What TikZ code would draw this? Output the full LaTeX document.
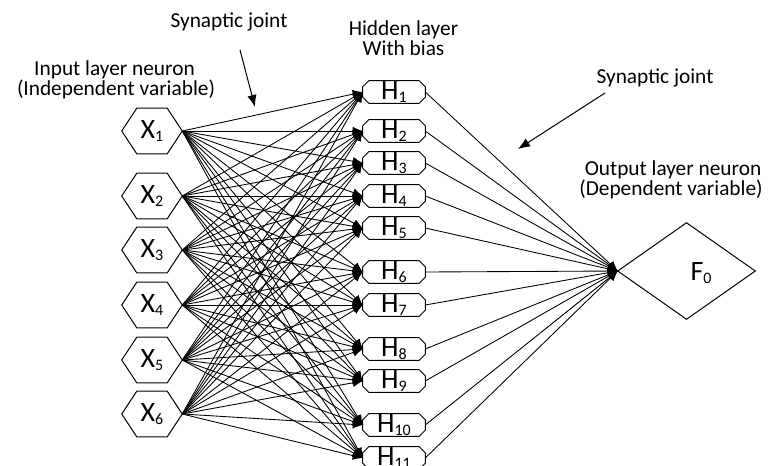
\documentclass[tikz,border=0pt]{standalone}
\usepackage{fontspec}
\setmainfont{Carlito}
\usetikzlibrary{arrows.meta,calc}
\newcommand\nlab[2]{{\fontsize{21}{21}\selectfont #1\raisebox{-1.8pt}{\fontsize{12}{12}\selectfont #2}}}
\begin{document}
\begin{tikzpicture}[x=0.75pt,y=-0.75pt,
  lbl/.style={font=\fontsize{16}{15}\selectfont, inner sep=0pt, anchor=base},
  conn/.style={line width=0.65pt, -{Latex[length=7.5pt,width=6.5pt]}},
  callout/.style={line width=0.75pt, -{Latex[length=9pt,width=7pt]}},
  outline/.style={line width=0.75pt},
  hexbox/.style={minimum width=45pt, minimum height=33.75pt, inner sep=0pt},
  hbox/.style={minimum width=46.5pt, minimum height=16.5pt, inner sep=0pt},
]
\useasboundingbox (0,0) rectangle (769,465);
\clip (0,0) rectangle (769,465);

% input layer
\foreach \i/\y in {1/131,2/196,3/250,4/305,5/360,6/414}{
  \node[hexbox] (X\i) at (152,\y) {\nlab{X}{\i}};
  \draw[outline] (X\i.west) -- ($(X\i.north west)+(15,0)$) -- ($(X\i.north east)+(-15,0)$)
    -- (X\i.east) -- ($(X\i.south east)+(-15,0)$) -- ($(X\i.south west)+(15,0)$) -- cycle;
}

% hidden layer
\foreach \j/\y in {1/92,2/131,3/163,4/196,5/228,6/272,7/305,8/349,9/381,10/425,11/458}{
  \node[hbox] (H\j) at (394,\y) {\nlab{H}{\j}};
  \draw[outline] ($(H\j.north west)+(6,0)$) -- ($(H\j.north east)+(-6,0)$)
    -- ($(H\j.north east)+(0,6)$) -- ($(H\j.south east)+(0,-6)$)
    -- ($(H\j.south east)+(-6,0)$) -- ($(H\j.south west)+(6,0)$)
    -- ($(H\j.south west)+(0,-6)$) -- ($(H\j.north west)+(0,6)$) -- cycle;
}

% output
\node[minimum width=102.75pt, minimum height=72pt, inner sep=0pt] (F) at (686.5,271) {};
\draw[outline] (F.west) -- (F.north) -- (F.east) -- (F.south) -- cycle;
\node (Flab) at (701,273) {\nlab{F}{0}};

% connections
\foreach \i in {1,...,6}{
  \foreach \j in {1,...,11}{
    \draw[conn] (X\i.east) -- (H\j.west);
  }
}
\foreach \j in {1,...,11}{
  \draw[conn] (H\j.east) -- (F.west);
}

% labels
\node[lbl] (t1) at (229,27) {Synaptic joint};
\node[lbl] (t2) at (114.5,75) {Input layer neuron};
\node[lbl] (t3) at (116,95) {(Independent variable)};
\node[lbl] (t4) at (403.5,35) {Hidden layer};
\node[lbl] (t5) at (403.5,55) {With bias};
\node[lbl] (t6) at (655,83) {Synaptic joint};
\node[lbl] (t7) at (673,175) {Output layer neuron};
\node[lbl] (t8) at (671,195) {(Dependent variable)};

\coordinate (c1s) at (240,50);
\coordinate (c1e) at (255,107);
\coordinate (c2s) at (605,93);
\coordinate (c2e) at (518,149);
\draw[callout] (c1s) -- (c1e);
\draw[callout] (c2s) -- (c2e);
\end{tikzpicture}
\end{document}
